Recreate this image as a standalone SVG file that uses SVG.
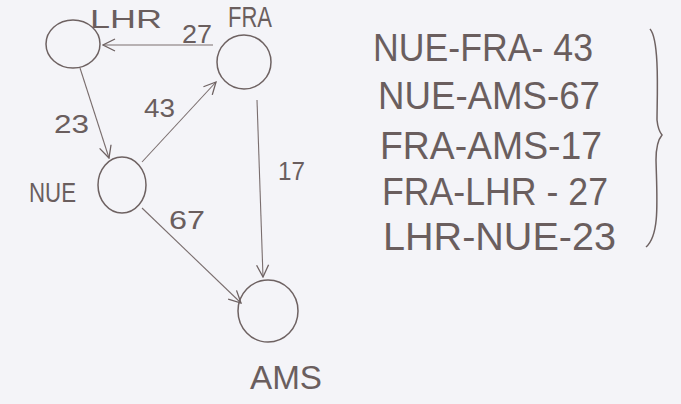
<svg xmlns="http://www.w3.org/2000/svg" width="681" height="404" viewBox="0 0 681 404">
<defs>
<marker id="ah" viewBox="0 0 14 14" refX="13" refY="7" markerWidth="14" markerHeight="14" markerUnits="userSpaceOnUse" orient="auto">
<path d="M1,1 L13,7 L1,13" fill="none" stroke="#6e6262" stroke-width="1.3"/>
</marker>
<style>
.n{fill:none;stroke:#6e6262;stroke-width:1.5}
.e{fill:none;stroke:#7a6e6e;stroke-width:1.1;marker-end:url(#ah)}
.t{font-family:"Liberation Sans",Arial,sans-serif;fill:#6a5e5e;font-size:25px}
.l{font-family:"Liberation Sans",Arial,sans-serif;fill:#6a5e5e;font-size:38px}
</style>
</defs>
<rect width="681" height="404" fill="#f4f4f8"/>
<g id="edges">
<line class="e" x1="213" y1="45" x2="103" y2="45"/>
<text class="t" x="182" y="43" textLength="30" lengthAdjust="spacingAndGlyphs">27</text>
<line class="e" x1="80" y1="68" x2="109" y2="158"/>
<text class="t" x="54" y="133" textLength="35" lengthAdjust="spacingAndGlyphs">23</text>
<line class="e" x1="142" y1="162" x2="216" y2="82"/>
<text class="t" x="144" y="117" textLength="31" lengthAdjust="spacingAndGlyphs">43</text>
<line class="e" x1="257" y1="100" x2="263" y2="277"/>
<text class="t" x="278" y="180" textLength="27" lengthAdjust="spacingAndGlyphs">17</text>
<line class="e" x1="142" y1="208" x2="241" y2="303"/>
<text class="t" x="169" y="229" textLength="36" lengthAdjust="spacingAndGlyphs">67</text>
</g>
<g id="LHR">
<ellipse class="n" cx="73" cy="44" rx="27" ry="24"/>
<text class="t" x="90" y="28" textLength="72" lengthAdjust="spacingAndGlyphs">LHR</text>
</g>
<g id="FRA">
<ellipse class="n" cx="244" cy="62" rx="27" ry="27"/>
<text class="t" x="228" y="27" style="font-size:29px" textLength="44" lengthAdjust="spacingAndGlyphs">FRA</text>
</g>
<g id="NUE">
<ellipse class="n" cx="122" cy="185" rx="24" ry="28"/>
<text class="t" x="29" y="202" style="font-size:27px" textLength="47" lengthAdjust="spacingAndGlyphs">NUE</text>
</g>
<g id="AMS">
<ellipse class="n" cx="268" cy="311" rx="30" ry="31"/>
<text class="t" x="250" y="389" style="font-size:33px" textLength="72" lengthAdjust="spacingAndGlyphs">AMS</text>
</g>
<g id="list">
<text class="l" x="373" y="61" textLength="220" lengthAdjust="spacingAndGlyphs">NUE-FRA- 43</text>
<text class="l" x="378" y="109" textLength="222" lengthAdjust="spacingAndGlyphs">NUE-AMS-67</text>
<text class="l" x="380" y="159" textLength="222" lengthAdjust="spacingAndGlyphs">FRA-AMS-17</text>
<text class="l" x="382" y="205" textLength="226" lengthAdjust="spacingAndGlyphs">FRA-LHR - 27</text>
<text class="l" x="383" y="250" textLength="233" lengthAdjust="spacingAndGlyphs">LHR-NUE-23</text>
<path class="n" d="M650,29 C660,40 657,100 657,120 Q658,130 662,135 Q656,142 656,160 C657,200 660,235 646,247"/>
</g>
</svg>
